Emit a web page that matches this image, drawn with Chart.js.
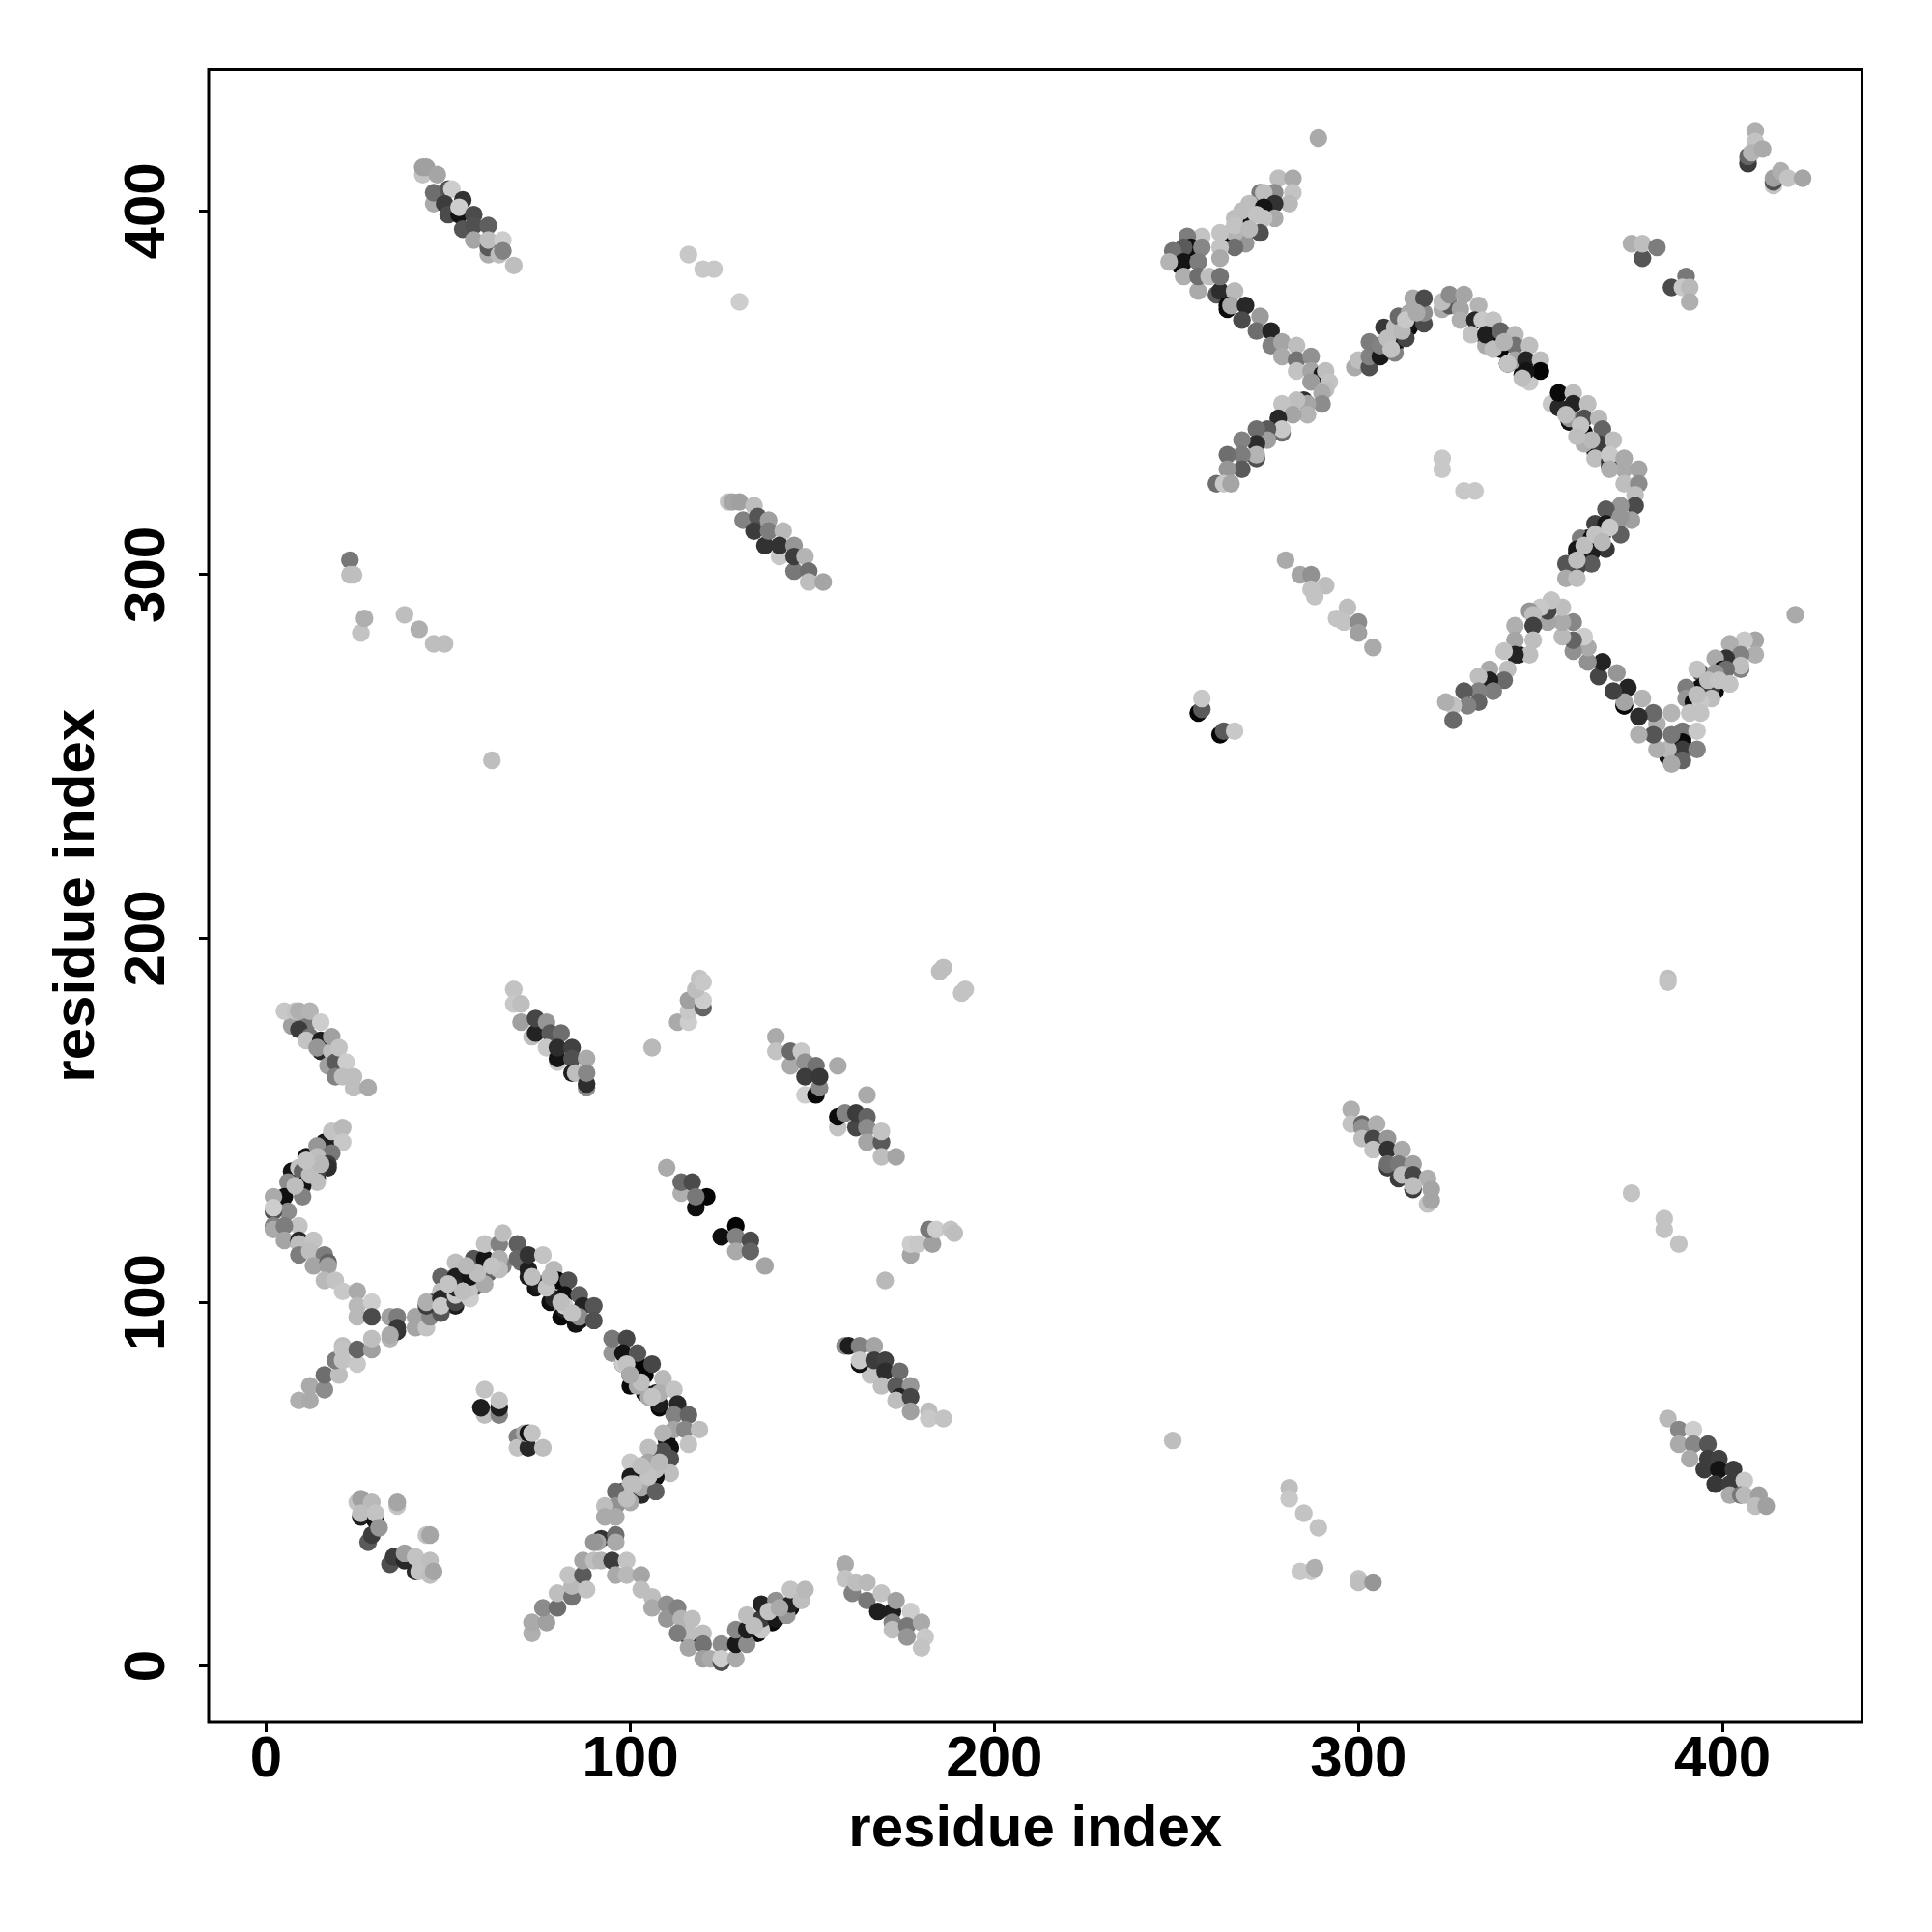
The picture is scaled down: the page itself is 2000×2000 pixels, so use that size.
<!DOCTYPE html>
<html>
<head>
<meta charset="utf-8">
<title>contact map</title>
<script src="https://cdn.jsdelivr.net/npm/chart.js@4"></script>
<style>
  body { margin: 0; background: #fff; }
</style>
</head>
<body>
<canvas id="myChart" width="2000" height="2000"></canvas>
<script>
var tickValues = [0, 100, 200, 300, 400];
var axisTitle = "residue index";

//===================Contacts, one x / y / shade list per patch==================//
// patch0 sits under the others, only its edges show
var patch0X = [47,48,52,52,56,60,74,78,81,85,72,46,53,57,61,65,70,16,11,7,14,8,98,98,102,103,107,107,110,106,98,101,104,108,100,135,131,139,144,251,254,264,267,271,272,264,306,309,310,314,314,335,341,345,336,355,358,361,365,369,368,363,370,360,366,363,369,395,399,392,398,389,385,373,344];
var patch0Y = [98,100,106,99,106,110,104,100,96,94,107,100,105,104,108,110,111,144,140,136,134,133,46,48,51,51,56,52,62,57,83,79,75,71,77,9,9,12,16,385,390,373,397,399,401,393,363,367,363,368,370,365,358,355,366,346,342,338,334,330,314,310,314,306,310,305,315,269,273,265,268,255,251,264,278];
var patch0S = [60,20,15,30,10,10,20,15,10,20,30,70,120,90,100,130,110,20,20,20,20,20,15,15,15,15,15,15,15,15,10,10,10,10,10,10,15,10,15,10,10,10,10,10,10,10,10,10,10,10,10,10,10,10,10,15,15,15,15,15,10,10,10,10,10,200,205,10,10,10,10,10,10,10,30];

var patch1X = [7,11,9,12,11,5,8,9,12,15,15,14,15,18,18,17,19,20,22,19,21,24,24,28];
var patch1Y = [176,176,175,173,172,180,180,180,180,169,172,170,177,169,173,165,166,170,166,162,162,162,159,159];
var patch1S = [160,120,60,120,195,200,195,175,180,40,30,150,205,190,160,160,90,195,205,130,190,190,190,170];

var patch2X = [68,68,70,70,73,74,74,77,78,81,77,80,80,80,84,84,88,84,85,88,88,88];
var patch2Y = [186,182,182,177,173,174,178,177,174,174,170,166,167,170,170,167,167,163,163,159,160,163];
var patch2S = [195,200,190,160,190,35,70,150,90,110,200,200,20,45,65,80,170,30,190,140,45,135];

var patch3X = [106,113,116,116,116,120,120,118,119,120,185,186,191,192];
var patch3Y = [170,177,177,180,183,181,183,186,189,188,191,192,185,186];
var patch3S = [185,170,205,200,160,100,205,190,195,200,190,190,195,195];

var patch4X = [140,140,144,144,147,148,151,157,148,148,151,152,152,165,157,157,159,162,162,165,165,165,169,169,169,173];
var patch4Y = [173,169,165,169,169,166,165,165,162,157,157,159,162,157,148,151,152,148,152,151,148,144,144,147,140,140];
var patch4S = [170,195,170,105,200,145,115,170,60,205,10,135,55,170,195,10,130,70,60,100,140,165,90,195,190,165];

var patch5X = [110,114,114,117,118,121,118,125,129,129,133,129,133,137];
var patch5Y = [137,130,133,133,126,129,129,118,121,118,117,114,114,110];
var patch5S = [170,175,105,75,15,5,120,15,5,130,75,170,100,165];

var patch6X = [170,177,177,179,183,182,184,188,189];
var patch6Y = [106,113,116,116,116,120,120,120,119];
var patch6S = [185,165,205,200,160,120,205,195,190];

var patch7X = [17,14,18,21,21,18,13,14,17,17,9,10,14,14,6,10,10,5,2,6,2,2,2,2,9,5,5,9,9,13,9,12,16,13,17,17,16,19,21,25,25,25,29,29];
var patch7Y = [144,143,147,148,144,141,139,140,138,137,137,136,136,133,133,132,129,129,129,125,125,126,121,120,121,121,117,117,116,117,113,114,113,110,111,110,106,106,103,103,99,96,100,96];
var patch7S = [30,150,195,185,200,120,20,190,60,45,195,100,70,190,140,20,130,15,170,140,80,205,130,170,195,125,165,40,190,195,125,190,125,165,100,160,185,195,200,170,185,185,205,75];

var patch8X = [34,36,36,34,41,41,44,45,48,44,44,48,48,48,48,52,52,52,52,52,56,56,57,56,60,60,64,64,64,60,65];
var patch8Y = [96,96,93,91,96,93,93,96,97,99,100,107,103,101,99,111,107,100,102,104,101,104,112,107,112,116,116,112,109,105,119];
var patch8S = [160,125,55,170,165,165,195,135,85,60,175,100,190,40,200,190,30,70,200,40,205,195,85,20,20,195,130,175,190,170,190];

var patch9X = [69,69,72,72,76,79,75,79,80,83,82,86,82,82,87,90,86,86,90];
var patch9Y = [116,112,109,113,113,109,105,101,106,106,102,102,98,99,99,99,95,96,95];
var patch9S = [95,105,30,50,195,185,30,40,5,80,15,95,30,205,35,85,20,140,80];

var patch10X = [95,95,98,99,98,100,102,102,104,106,102,107,109,108,105,108,112,113,112,116,112,109,115,119,116,111,109,111,105,105,111,107,107,107];
var patch10Y = [86,90,83,90,86,80,83,86,80,83,77,75,79,72,74,75,76,72,69,69,65,64,65,65,61,60,59,57,60,56,53,52,54,48];
var patch10S = [150,120,205,70,20,80,5,85,5,70,170,30,185,30,170,175,195,40,130,100,165,180,135,190,195,15,80,80,190,165,190,15,190,95];

var patch11X = [100,100,103,100,100,103,103,100,96,96,93,93,96,92,96,96,91,90];
var patch11Y = [56,52,53,48,50,47,49,45,48,44,44,41,41,35,36,34,34,34];
var patch11S = [200,30,30,40,190,40,170,170,105,145,190,170,170,50,110,170,165,150];

var patch12X = [9,12,12,16,16,20,19,21,21,21,25,25,29,29,34,36];
var patch12Y = [73,73,77,76,80,80,84,88,84,87,83,87,87,90,90,92];
var patch12S = [175,170,170,140,110,190,125,190,195,195,200,100,160,190,180,50];

var patch13X = [60,59,60,64,64,64,69,69,72,71,72,73,76];
var patch13Y = [69,71,76,69,71,73,63,60,60,64,64,64,60];
var patch13S = [190,30,195,130,30,195,130,195,40,170,20,195,190];

var patch14X = [26,25,26,29,26,30,30,36,36,28,29,31,44,45,34,35,38,38,41,42,41,45,45,46];
var patch14Y = [41,45,46,45,42,40,42,44,45,34,36,38,36,36,28,30,29,31,26,26,30,29,25,26];
var patch14S = [30,195,160,185,190,20,195,195,165,90,60,150,195,165,80,60,40,160,40,195,195,190,190,165];

var patch15X = [73,73,77,76,80,80,84,84,83,87,88,87,90,92,95,99,96,99,103,103,106,106,110,110,113,114,117,113];
var patch15Y = [9,12,12,16,16,20,19,22,25,25,21,29,29,29,29,29,25,25,25,21,19,16,17,13,16,13,13,9];
var patch15S = [175,170,160,140,110,190,115,185,195,90,195,165,190,180,60,195,170,185,165,190,190,170,145,150,130,180,190,125];

var patch16X = [116,116,116,120,120,120,122,125,125,125,129,129,129,132,132,132,136,136,136,140,140,143,144,144,147,148];
var patch16Y = [8,9,5,9,6,2,2,6,1,2,2,6,10,6,10,14,10,13,17,18,13,14,17,21,18,21];
var patch16S = [30,190,165,190,115,160,170,140,80,205,170,25,135,140,30,190,200,60,35,145,25,150,35,195,190,185];

var patch17X = [159,159,161,162,165,165,169,168,172,172,172,173,177,176,180,176,181,180];
var patch17Y = [28,24,20,23,18,23,20,15,15,12,10,18,15,11,12,8,8,5];
var patch17S = [170,195,130,190,120,185,195,30,30,130,190,160,205,120,170,150,200,195];

var patch18X = [159,160,163,167,167,166,163,163,167,170,170,174,169,173,177,174,173,177,177,182,182,186];
var patch18Y = [88,88,88,88,81,80,83,84,84,84,81,81,77,77,77,74,73,74,70,70,68,68];
var patch18S = [140,30,130,165,15,195,20,200,60,65,45,110,190,90,150,35,190,70,160,190,200,195];

var patch19X = [289,278,282,282,277,273,274,281,277,270,274,277,274,269,266,273,269,269,265,266,266,262,262,262,257,253,254,252,257,249,252,256,248,252,256,259,262];
var patch19Y = [420,409,409,405,405,405,405,402,402,402,401,398,398,398,398,394,394,391,394,394,390,394,390,387,393,393,390,390,390,389,386,386,386,382,382,382,382];
var patch19S = [170,190,170,195,140,120,190,185,50,190,20,170,195,20,190,80,20,150,10,180,110,195,195,170,195,125,15,90,135,115,20,125,180,175,110,190,115];

var patch20X = [256,261,262,266,264,265,269,268,273,272,276,276,279,279,283,283,287,283,287,290,291,287,292,291,290,290,285,286,283,279,286,282,278,279,279,275,275,272,272,268,272,272,268,268,264,264,261,263,265];
var patch20Y = [378,377,378,378,374,374,374,370,371,367,367,363,364,360,363,359,360,356,356,355,356,353,353,351,350,347,348,347,348,347,344,344,343,339,340,340,337,340,336,337,332,333,333,329,333,329,325,325,325];
var patch20S = [170,90,45,185,10,170,40,75,155,110,35,130,165,170,190,115,145,195,165,25,190,155,195,190,170,140,50,165,190,195,180,165,40,110,200,90,160,110,45,130,80,180,125,90,110,150,110,200,165];

var patch21X = [299,300,303,303,303,306,310,306,307,310,313,310,311,314,314,318,318,315,318,323,325,323,325,329,328,328,333,332,331,334,337,335,335,339,339,343,343,343,347,347,346,350,350,346];
var patch21Y = [357,359,357,360,364,360,361,363,368,364,365,368,371,369,372,369,372,376,376,373,374,375,377,377,373,370,374,370,366,370,370,363,366,367,362,366,363,359,363,353,359,359,356,356];
var patch21S = [170,190,80,130,125,25,130,130,55,20,70,190,105,20,170,75,140,170,75,170,90,190,140,165,165,175,180,40,195,200,195,170,30,100,5,185,115,165,190,200,35,190,5,20];

var patch22X = [353,355,355,359,359,363,358,358,362,366,362,367,362,366,370,365,369,369,373,373,377,369,373,377,376,376,372,368,375,372,365,368,371,372,367,361,364,368,364,360,364,360,357,357,360];
var patch22Y = [347,346,350,350,347,347,342,343,343,343,339,340,336,336,337,332,331,333,332,329,329,329,325,325,322,319,319,318,315,316,314,314,314,311,311,310,310,307,306,307,303,302,303,299,299];
var patch22S = [200,40,10,190,35,190,20,150,80,185,5,100,175,60,190,190,60,200,170,170,165,175,190,140,190,75,150,90,160,150,65,25,150,95,35,125,15,55,30,25,90,70,85,170,190];

var patch23X = [420,409,406,402,409,405,401,398,405,405,400,401,394,393,398,402,394,397,390,397,390,392,394,386,391,394,389,393,389,389,393,385,385,389,386,382,381,386,377];
var patch23Y = [289,282,282,281,278,278,277,277,274,275,274,274,273,274,273,270,269,269,269,266,266,265,265,262,262,262,257,257,254,252,252,250,252,249,248,252,256,256,256];
var patch23S = [170,165,200,175,175,130,50,170,130,190,10,110,85,195,150,195,15,60,125,190,150,15,200,180,195,195,120,200,10,60,130,20,185,100,170,175,85,120,175];

var patch24X = [382,381,377,378,374,373,373,370,371,366,367,363,363,362,359,359,359,356,356,352,356,352,353,350,347,348,343,348,348,343,347,343,340,341,340,336,336,333,337,333,333,329,330,326,324,326];
var patch24Y = [259,262,261,266,269,264,265,268,273,272,276,276,280,283,279,282,287,283,287,287,291,290,293,291,290,289,286,286,282,282,278,278,279,274,271,274,271,272,268,268,265,268,264,264,265,260];
var patch24S = [175,105,45,180,35,10,165,65,150,70,35,145,170,205,145,100,135,185,170,165,190,70,195,200,150,190,175,65,190,165,190,35,195,190,105,170,30,190,125,130,100,90,130,195,175,105];

var patch25X = [323,323,329,332,280,284,287,291,287,288,297,294,296,300,300,304,256,257,257,262,263,266];
var patch25Y = [332,329,323,323,304,300,300,297,296,294,291,288,287,287,284,280,262,263,266,256,257,257];
var patch25S = [200,200,200,200,170,165,145,190,195,195,190,195,195,140,160,170,5,90,200,5,90,200];

var patch26X = [43,43,44,47,46,46,50,51,49,54,50,53,53,57,54,57,61,57,61,61,61,65,64,65,68];
var patch26Y = [410,412,412,410,402,405,406,406,402,403,399,399,401,399,395,396,396,392,388,390,392,392,388,389,385];
var patch26S = [195,160,160,165,170,110,85,205,60,50,75,20,205,75,85,80,95,165,175,90,190,205,190,130,190];

var patch27X = [116,120,123,130,23,23,24,26,27,38,42,46,49,62];
var patch27Y = [388,384,384,375,304,300,300,284,288,289,285,281,281,249];
var patch27S = [200,200,200,205,120,190,190,195,175,190,175,190,190,190];

var patch28X = [127,128,130,134,131,135,138,134,137,138,142,141,141,145,145,145,148,149,149,153];
var patch28Y = [320,320,320,319,315,316,315,312,308,312,312,305,308,308,301,305,305,301,298,298];
var patch28S = [195,165,160,190,130,85,160,60,50,125,185,200,50,150,120,60,180,110,190,165];

var patch29X = [409,409,407,407,407,408,411,414,414,414,416,418,422,375,378,378,382,386,390,389,391,391];
var patch29Y = [422,419,414,413,415,416,417,407,408,409,411,409,409,391,387,391,390,379,382,379,379,375];
var patch29S = [175,195,190,60,100,180,170,195,80,160,175,195,165,175,85,190,125,75,120,200,185,175];

var patch30X = [385,385,249,375,384,384,388,281,281,285,289,284,287,288,300,300,304];
var patch30Y = [189,188,62,130,123,120,116,49,46,42,38,26,26,27,24,23,23];
var patch30S = [190,195,190,195,195,195,195,190,200,195,195,200,200,175,195,190,150];

var patch31X = [298,298,301,301,305,301,304,308,304,308,312,308,308,311,315,311,312,315,319,315,315,320,319,320];
var patch31Y = [153,149,149,148,149,145,145,145,142,142,142,137,138,138,138,134,135,135,134,131,132,131,127,128];
var patch31S = [175,195,100,145,175,190,70,150,195,50,170,60,110,120,160,60,190,70,175,60,190,165,195,165];

var patch32X = [385,388,392,388,392,396,391,396,399,395,399,403,398,402,406,402,405,406,410,409,412];
var patch32Y = [68,65,65,61,61,61,57,57,57,54,54,54,50,50,51,47,47,47,47,44,44];
var patch32S = [185,135,205,170,135,85,170,60,65,60,20,60,55,60,200,170,120,185,160,190,160];

// light dots lying on top of the dark runs
var patch33X = [362,365,369,367,360,308,312,309,313,316,337,341,345,340,357,361,364,360,50,54,58,55,62,73,77,81,84,78,99,103,106,100,101,105,103,108,99,12,15,11,8,134,138,141,396,399,393,268,272,266,270];
var patch33Y = [308,311,313,309,304,365,367,362,370,372,362,358,354,364,344,341,337,338,105,103,108,110,110,107,104,100,97,107,83,78,74,80,50,52,55,56,46,135,138,139,132,11,15,16,271,271,267,400,399,396,395];
var patch33S = [190,195,200,185,190,190,185,195,200,170,190,195,190,180,190,195,185,190,195,190,190,185,195,190,195,190,195,185,195,190,195,170,190,195,190,185,190,190,185,195,190,190,195,170,190,195,190,190,195,195,185];

// Chart.js paints the last dataset first: patch33 ends on top, patch0 at the bottom
var patches = [
  [patch33X, patch33Y, patch33S],
  [patch1X, patch1Y, patch1S], [patch2X, patch2Y, patch2S], [patch3X, patch3Y, patch3S],
  [patch4X, patch4Y, patch4S], [patch5X, patch5Y, patch5S], [patch6X, patch6Y, patch6S],
  [patch7X, patch7Y, patch7S], [patch8X, patch8Y, patch8S], [patch9X, patch9Y, patch9S],
  [patch10X, patch10Y, patch10S], [patch11X, patch11Y, patch11S], [patch12X, patch12Y, patch12S],
  [patch13X, patch13Y, patch13S], [patch14X, patch14Y, patch14S], [patch15X, patch15Y, patch15S],
  [patch16X, patch16Y, patch16S], [patch17X, patch17Y, patch17S], [patch18X, patch18Y, patch18S],
  [patch19X, patch19Y, patch19S], [patch20X, patch20Y, patch20S], [patch21X, patch21Y, patch21S],
  [patch22X, patch22Y, patch22S], [patch23X, patch23Y, patch23S], [patch24X, patch24Y, patch24S],
  [patch25X, patch25Y, patch25S], [patch26X, patch26Y, patch26S], [patch27X, patch27Y, patch27S],
  [patch28X, patch28Y, patch28S], [patch29X, patch29Y, patch29S], [patch30X, patch30Y, patch30S],
  [patch31X, patch31Y, patch31S], [patch32X, patch32Y, patch32S],
  [patch0X, patch0Y, patch0S]
];

var datasets = patches.map(function(p) {
  return {
    data: p[0].map(function(x, i) { return { x: x, y: p[1][i] }; }),
    pointBackgroundColor: p[2].map(function(g) { return "rgb(" + g + "," + g + "," + g + ")"; }),
    pointBorderWidth: 0,
    pointRadius: 9.2,
    pointHoverRadius: 9.2,
    showLine: false
  };
});

//===================Frame round the plot==================//
var boxPlugin = {
  id: "box",
  afterDraw: function(chart) {
    var a = chart.chartArea;
    chart.ctx.save();
    chart.ctx.strokeStyle = "#000";
    chart.ctx.lineWidth = 3;
    chart.ctx.strokeRect(a.left, a.top, a.right - a.left, a.bottom - a.top);
    chart.ctx.restore();
  }
};

var tickFont = { family: "Liberation Sans", size: 60, weight: "bold" };

function setTicks(scale) {
  scale.ticks = tickValues.map(function(v) { return { value: v }; });
}

var ctx = document.getElementById("myChart").getContext("2d");
new Chart(ctx, {
  type: "scatter",
  data: { datasets: datasets },
  plugins: [boxPlugin],
  options: {
    responsive: false,
    animation: false,
    layout: { padding: { left: 0, top: 71.5, right: 72.5, bottom: 0 } },
    plugins: { legend: { display: false }, tooltip: { enabled: false } },
    scales: {
      x: {
        type: "linear",
        min: -15.8,
        max: 438.3,
        afterBuildTicks: setTicks,
        afterFit: function(scale) { scale.height = 217; },
        grid: { drawOnChartArea: false, tickLength: 10, tickWidth: 3, tickColor: "#000" },
        border: { display: false },
        ticks: { color: "#000", font: tickFont, padding: -7, maxRotation: 0, minRotation: 0 },
        title: { display: true, text: axisTitle, color: "#000", font: tickFont, padding: { top: 8, bottom: 70 } }
      },
      y: {
        type: "linear",
        min: -15.5,
        max: 439,
        afterBuildTicks: setTicks,
        afterFit: function(scale) { scale.width = 216; },
        grid: { drawOnChartArea: false, tickLength: 10, tickWidth: 3, tickColor: "#000" },
        border: { display: false },
        ticks: { color: "#000", font: tickFont, padding: 2, minRotation: 90, maxRotation: 90, crossAlign: "center" },
        title: { display: true, text: axisTitle, color: "#000", font: tickFont, padding: { top: 44, bottom: 0 } }
      }
    }
  }
});
</script>
</body>
</html>
